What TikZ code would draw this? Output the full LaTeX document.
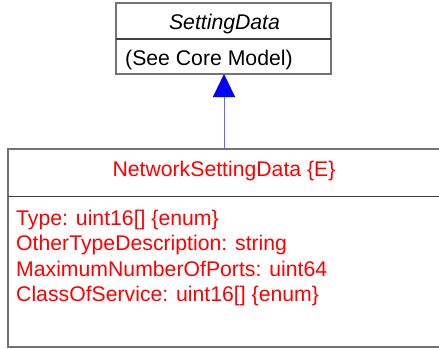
\documentclass[tikz,border=0pt]{standalone}
\usepackage{fontspec}
\setmainfont{Liberation Sans}
\usetikzlibrary{arrows.meta}
\begin{document}
\begin{tikzpicture}[x=1bp,y=-1bp,
  boxline/.style={draw=black!55,line width=1.5bp},
  divline/.style={draw=black!75,line width=1.2bp},
  txt/.style={inner sep=0pt,font=\fontsize{21.3}{25}\selectfont},
  attr/.style={txt,anchor=base west,text=red}]
\useasboundingbox (0,0) rectangle (439,348);
\begin{scope}
\clip (0,0) rectangle (439,348);
% top class
\draw[boxline] (116,3) rectangle (331,74);
\draw[divline] (116,39) -- (331,39);
\node[txt,anchor=base,font=\fontsize{21.3}{25}\selectfont\itshape] (sd) at (224.5,29.5) {SettingData};
\node[txt,anchor=base west] (sdc) at (125,65) {(See Core Model)};
\coordinate (sdb) at (224,74);
% bottom class
\draw[boxline] (8,149) rectangle (441,347);
\draw[divline] (8,196.5) -- (441,196.5);
\coordinate (nst) at (224,149);
\node[txt,anchor=base,text=red] (nsd) at (224,176) {NetworkSettingData \{E\}};
\node[attr] (a1) at (16,225) {Type: uint16[] \{enum\}};
\node[attr] (a2) at (16,250.5) {OtherTypeDescription: string};
\node[attr] (a3) at (16,276) {MaximumNumberOfPorts: uint64};
\node[attr] (a4) at (16,301) {ClassOfService: uint16[] \{enum\}};
\end{scope}
\draw[draw={rgb,255:red,100;green,100;blue,255},line width=1bp,
  -{Triangle[length=23bp,width=22bp,fill=blue,color=blue]}] (nst) -- (sdb);
\end{tikzpicture}
\end{document}
